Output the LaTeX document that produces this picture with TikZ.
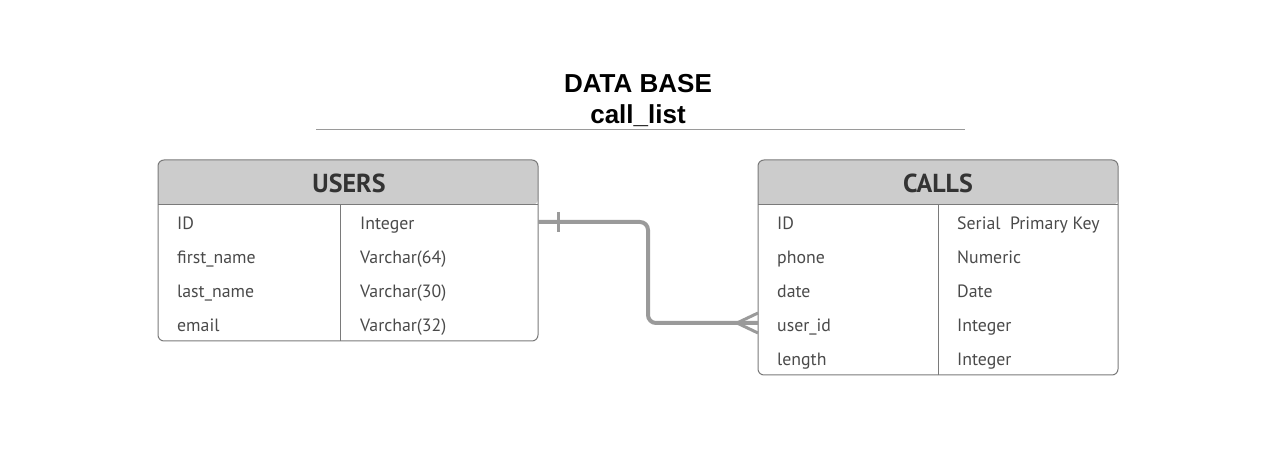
\documentclass[tikz,border=0pt]{standalone}
\usepackage{fontspec}
\setmainfont{PT Sans}
\newfontfamily\titlefont{Liberation Sans}
\usepackage{xcolor}
\definecolor{headgray}{HTML}{CCCCCC}
\definecolor{linkgray}{HTML}{9A9A9A}
\definecolor{framegray}{HTML}{7A7A7A}
\definecolor{textgray}{HTML}{4A4A4A}
\definecolor{headtext}{HTML}{333333}

\begin{document}
\begin{tikzpicture}[x=1pt,y=-1pt,
	field/.style={anchor=base west,inner sep=0pt,text=textgray,font=\fontsize{17.8}{20}\selectfont},
	tabhead/.style={anchor=base,inner sep=0pt,text=headtext,font=\fontsize{26}{28}\bfseries},
	tabframe/.style={draw=framegray,line width=1pt,rounded corners=6pt},
	link/.style={draw=linkgray,line width=4pt}]
	\useasboundingbox (0,0) rectangle (1267,462);

	% title
	\node (title) at (638,93) [anchor=base,inner sep=0pt,font=\titlefont\fontsize{26}{28}\bfseries\selectfont] {DATA BASE};
	\node (dbname) at (638,124) [anchor=base,inner sep=0pt,font=\titlefont\fontsize{26}{28}\bfseries\selectfont] {call\_list};
	\coordinate (RL) at (316,130);
	\coordinate (RR) at (965,130);
	\draw [draw=linkgray,line width=1pt] (RL) -- (RR);

	% USERS table
	\coordinate (U1) at (158,160);
	\coordinate (U2) at (538,341);
	\fill [headgray,rounded corners=6pt] (158,205) -- (158,160) -- (538,160) -- (538,205) [sharp corners] -- cycle;
	\draw [tabframe] (U1) rectangle (U2);
	\draw [draw=framegray,line width=1pt] (158,205) -- (538,205);
	\draw [draw=framegray,line width=1pt] (340,205) -- (340,341);
	\node (users) at (349,193) [tabhead] {USERS};
	\node (uid) at (177,230) [field] {ID};
	\node (ufirst) at (177,264) [field] {first\_name};
	\node (ulast) at (177,298) [field] {last\_name};
	\node (umail) at (177,332) [field] {email};
	\node (uidt) at (360,230) [field] {Integer};
	\node (ufirstt) at (360,264) [field] {Varchar(64)};
	\node (ulastt) at (360,298) [field] {Varchar(30)};
	\node (umailt) at (360,332) [field] {Varchar(32)};

	% CALLS table
	\coordinate (C1) at (758,160);
	\coordinate (C2) at (1118,375);
	\fill [headgray,rounded corners=6pt] (758,205) -- (758,160) -- (1118,160) -- (1118,205) [sharp corners] -- cycle;
	\draw [tabframe] (C1) rectangle (C2);
	\draw [draw=framegray,line width=1pt] (758,205) -- (1118,205);
	\draw [draw=framegray,line width=1pt] (938,205) -- (938,375);
	\node (calls) at (938,193) [tabhead] {CALLS};
	\node (cid) at (777,230) [field] {ID};
	\node (cphone) at (777,264) [field] {phone};
	\node (cdate) at (777,298) [field] {date};
	\node (cuser) at (777,332) [field] {user\_id};
	\node (clen) at (777,366) [field] {length};
	\node (cidt) at (957,230) [field] {Serial\ \ Primary Key};
	\node (cphonet) at (957,264) [field] {Numeric};
	\node (cdatet) at (957,298) [field] {Date};
	\node (cusert) at (957,332) [field] {Integer};
	\node (clent) at (957,366) [field] {Integer};

	% relation users.ID -> calls.user_id
	\coordinate (A) at (538,222);
	\coordinate (B) at (758,323);
	\draw [link,rounded corners=8pt] (A) -- (648,222) -- (648,323) -- (B);
	\draw [link,line width=3pt] (558,212) -- (558,232);
	\draw [link,line width=3pt] (737,323) -- (758,313);
	\draw [link,line width=3pt] (737,323) -- (758,333);
\end{tikzpicture}
\end{document}
